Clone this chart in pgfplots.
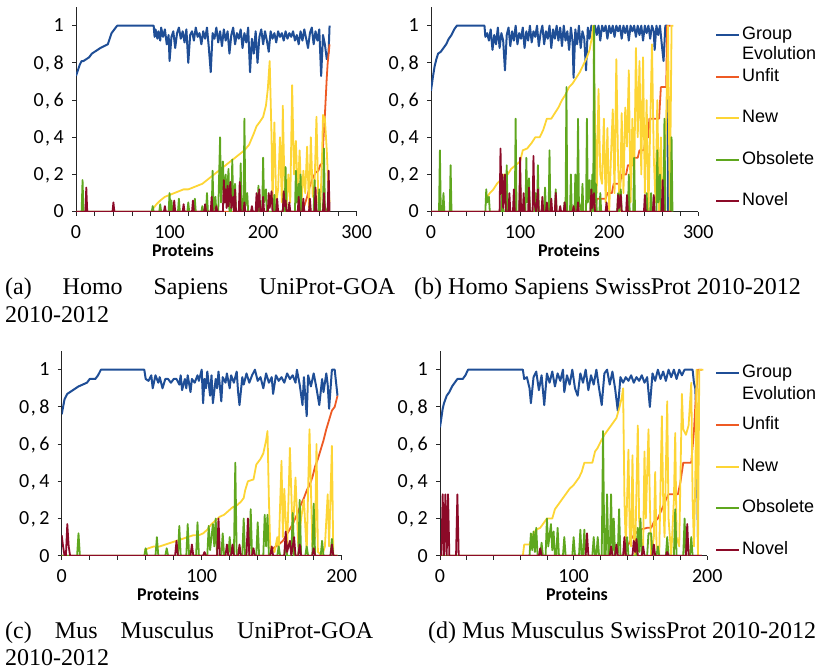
\documentclass[border=0pt]{standalone}
\usepackage{pgfplots}
\pgfplotsset{compat=1.18}
\usepackage{fontspec}
\setmainfont{Liberation Serif}
\newfontfamily\carlito{Carlito}
\newfontfamily\arialf{Liberation Sans}
\newfontfamily\capfont{Liberation Serif}
\definecolor{cBlue}{HTML}{1F4E96}
\definecolor{cRed}{HTML}{EE5A24}
\definecolor{cYellow}{HTML}{FDD535}
\definecolor{cGreen}{HTML}{5FA71E}
\definecolor{cNovel}{HTML}{8C0A28}
\newcommand{\tkcomma}{\kern1.5pt,\kern3.5pt}
\pgfplotsset{
  panel/.style={
    scale only axis, height=204.6pt, ymin=0, ymax=1.1, xmin=0,
    axis x line*=bottom, axis y line*=left,
    axis line style={black!85, line width=0.8pt},
    tick align=outside, major tick length=4pt,
    tick style={black!85, line width=0.8pt},
    /pgf/number format/assume math mode=true,
    ytick={0,0.2,0.4,0.6,0.8,1},
    yticklabels={0,0\tkcomma2,0\tkcomma4,0\tkcomma6,0\tkcomma8,1},
    ticklabel style={font=\carlito\fontsize{20}{24}\selectfont, inner sep=0pt},
    yticklabel style={anchor=base east, yshift=-6.3pt},
    xticklabel style={anchor=north},
    xticklabel shift=10pt, yticklabel shift=8pt,
    xlabel={Proteins},
    xlabel style={font=\carlito\bfseries\fontsize{18}{20}\selectfont, inner sep=0pt},
    every axis plot/.append style={line width=1.8pt, line join=round},
    legend cell align=left,
    legend image code/.code={\draw[##1,line width=1.8pt] (0pt,0pt) -- (23pt,0pt);},
    legend style={draw=none, fill=none, anchor=north west, inner sep=0pt,
      font=\arialf\fontsize{18}{20}\selectfont, row sep=24.5pt, column sep=2pt,
      nodes={inner sep=0pt, text height=13pt, text depth=4pt}},
  },
  big/.style={xmax=300, xtick={0,20,...,300},
    xticklabels={0,{},{},{},{},100,{},{},{},{},200,{},{},{},{},300}},
  small/.style={xmax=200, xtick={0,20,...,200},
    xticklabels={0,{},{},{},{},100,{},{},{},{},200}},
  raisedimg/.style={legend image code/.code={\draw[##1,line width=1.8pt] (0pt,11pt) -- (23pt,11pt);}},
}
\begin{document}
\begin{tikzpicture}[x=1pt,y=1pt]
\path[use as bounding box] (0pt,0pt) rectangle (830pt,670pt);

% ---------------- (a)
\begin{axis}[panel, big, width=280.7pt, at={(76pt,458.3pt)}, anchor=south west,
  xlabel style={at={(axis description cs:0.381,0)}, anchor=base, yshift=-45pt}]
\addplot[cBlue, line width=2pt] coordinates {(0,0.73)(2,0.76)(4,0.79)(6,0.81)(8,0.81)(11,0.82)(14,0.83)(17,0.85)(20,0.86)(23,0.87)(26,0.88)(30,0.89)(34,0.90)(36,0.93)(38,0.96)(41,0.98)(44,1.0)(83,1.0)
(84,0.94)(85,0.98)(87,0.93)(88,0.97)(90,0.92)(91,0.99)(93,0.94)(95,0.98)(97,0.90)(99,0.95)(100,0.81)(102,0.94)(104,0.97)(106,0.88)(108,0.96)(110,0.99)(112,0.93)(114,0.97)(116,0.91)(118,0.98)(120,0.80)(122,0.95)(124,0.97)(126,0.92)(128,0.99)(130,0.94)(132,0.96)(134,0.90)(136,0.97)(138,0.93)(140,0.99)(142,0.88)(144,0.75)(146,0.96)(148,0.93)(150,0.99)(152,0.91)(154,0.97)(156,0.89)(158,0.98)(160,0.92)(162,0.97)(164,0.85)(166,0.95)(168,0.99)(170,0.90)(172,0.96)(174,0.93)(176,0.98)(178,0.88)(180,0.96)(182,0.91)(184,0.99)(186,0.75)(188,0.93)(190,0.85)(192,0.97)(194,0.80)(196,0.94)(198,0.98)(200,0.90)(202,0.97)(204,0.92)(206,0.86)(208,0.97)(210,0.93)(212,0.96)(214,0.91)(216,0.97)(218,0.94)(220,0.96)(222,0.92)(224,0.97)(226,0.93)(228,0.96)(230,0.94)(232,0.97)(234,0.92)(236,0.95)(238,0.90)(240,0.97)(242,0.92)(244,0.98)(246,0.93)(248,0.88)(250,0.96)(252,0.99)(254,0.90)(256,0.97)(258,0.92)(260,0.98)(262,0.73)(264,0.95)(266,0.90)(268,0.82)(270,0.86)(271,1.0)};
\addplot[cRed] coordinates {(0,0)(240,0)(244,0.03)(247,0.08)(250,0.14)(253,0.18)(256,0.21)(259,0.22)(261,0.25)(263,0.26)(264,0.35)(266,0.52)(267,0.62)(268,0.72)(269,0.80)(271,0.90)};
\addplot[cYellow] coordinates {(83,0.02)(86,0.04)(90,0.06)(95,0.08)(100,0.09)(105,0.10)(110,0.11)(115,0.12)(120,0.12)(125,0.13)(130,0.14)(135,0.15)(140,0.17)(145,0.19)(150,0.21)(155,0.23)(160,0.25)(165,0.27)(170,0.29)(175,0.31)(180,0.33)(185,0.36)(190,0.42)(193,0.46)(196,0.48)(200,0.51)(203,0.57)(205,0.66)(207,0.81)(209,0.40)(210,0.03)(212,0.48)(214,0.05)(216,0.12)(218,0.40)(220,0.05)(221,0.57)(223,0.10)(225,0.03)(227,0.20)(229,0.05)(231,0.68)(233,0.20)(235,0.38)(237,0.08)(239,0.33)(241,0.05)(243,0.22)(245,0.10)(247,0.35)(249,0.02)(251,0.40)(253,0.08)(255,0.15)(257,0.51)(259,0.05)(261,0.0)(263,0.30)(264,0.52)(266,0.5)(268,0.33)(270,0.10)(271,0.05)};
\addplot[cGreen] coordinates {(0,0)(6,0)(7,0.17)(8,0)(81,0)(82,0.03)(83,0)(89,0)(90,0.04)(91,0)(99,0)(100,0.10)(101,0)(102,0.06)(103,0)(109,0)(110,0.07)(111,0)(119,0)(120,0.05)(121,0)(126,0)(127,0.07)(128,0)(134,0)(135,0.03)(136,0)(139,0)(140,0.10)(141,0)(145,0)(146,0.22)(147,0)(149,0.08)(150,0)(152,0)(154,0.40)(155,0.05)(157,0.27)(158,0.10)(160,0.20)(161,0.05)(163,0.23)(164,0)(166,0)(167,0.28)(168,0.05)(170,0.15)(171,0)(175,0)(176,0.26)(177,0)(179,0)(180,0.50)(181,0.03)(183,0.10)(184,0)(194,0)(195,0.14)(196,0)(199,0)(200,0.29)(201,0.05)(203,0.12)(204,0)(211,0)(212,0.09)(213,0)(221,0)(222,0.10)(223,0)(224,0.24)(225,0)(234,0)(235,0.22)(236,0.05)(238,0.15)(239,0)(240,0.20)(241,0)(254,0)(255,0.17)(256,0)(259,0)(260,0.12)(261,0)(264,0)(265,0.34)(266,0.03)(268,0)(271,0)};
\addplot[cNovel] coordinates {(0,0)(10,0)(11,0.13)(12,0)(39,0)(40,0.05)(41,0)(94,0)(95,0.03)(96,0)(104,0)(105,0.06)(106,0)(114,0)(115,0.04)(116,0)(124,0)(125,0.06)(126,0)(137,0)(138,0.04)(139,0)(144,0)(145,0.08)(146,0)(149,0)(150,0.03)(151,0)(157,0)(158,0.17)(159,0.05)(160,0.12)(161,0.02)(162,0.14)(163,0.03)(165,0.16)(166,0.02)(168,0.08)(169,0)(170,0.12)(171,0)(174,0)(175,0.16)(176,0)(179,0)(180,0.05)(181,0)(187,0)(188,0.03)(189,0)(192,0)(193,0.10)(194,0)(196,0.12)(197,0)(199,0)(200,0.08)(201,0)(205,0)(206,0.10)(207,0.02)(209,0.11)(210,0)(214,0)(215,0.07)(216,0)(221,0)(222,0.11)(223,0.03)(224,0.06)(225,0)(227,0)(228,0.05)(229,0)(237,0)(238,0.08)(239,0)(242,0)(243,0.07)(244,0)(249,0)(250,0.07)(251,0)(255,0)(256,0.13)(257,0)(264,0)(265,0.10)(266,0)(269,0)(270,0.22)(271,0)};
\end{axis}

% ---------------- (b)
\begin{axis}[panel, big, width=267.3pt, at={(431pt,458.3pt)}, anchor=south west,
  xlabel style={at={(axis description cs:0.516,0)}, anchor=base, yshift=-45pt},
  legend style={at={(axis description cs:1.0625,0.905)}}]
\addplot[cBlue, line width=2pt] coordinates {(0,0.65)(2,0.72)(4,0.78)(6,0.82)(8,0.85)(11,0.86)(14,0.88)(17,0.90)(20,0.93)(23,0.95)(26,0.98)(29,1.0)(60,1.0)(61,0.94)(63,0.96)(65,0.92)(67,0.98)(69,0.87)(71,0.95)(73,0.90)(75,0.99)(77,0.88)(79,0.96)(81,0.92)(83,0.76)(85,0.95)(87,0.99)(89,0.89)(91,0.97)(93,0.92)(95,1.0)(97,0.90)(99,0.96)(101,0.93)(103,0.99)(105,0.88)(107,0.97)(109,0.92)(111,1.0)(113,0.91)(115,0.97)(117,0.94)(119,1.0)(121,0.89)(123,0.96)(125,1.0)(127,0.90)(129,0.97)(131,0.93)(133,1.0)(135,0.88)(137,0.98)(139,0.93)(141,1.0)(143,0.92)(145,0.99)(147,0.89)(149,1.0)(151,0.92)(153,0.97)(155,0.87)(157,0.99)(159,0.91)(160,0.72)(162,0.98)(164,0.90)(166,1.0)(168,0.88)(170,0.97)(172,0.93)(174,0.76)(176,0.99)(178,0.93)(180,1.0)(182,0.97)(184,1.0)(186,0.95)(188,1.0)(190,0.92)(192,1.0)(194,0.97)(196,1.0)(198,0.93)(200,1.0)(202,0.96)(204,1.0)(206,0.94)(208,1.0)(210,0.97)(212,1.0)(214,0.93)(216,1.0)(218,0.96)(220,1.0)(222,0.92)(224,1.0)(226,0.97)(228,1.0)(230,0.94)(232,1.0)(234,0.95)(236,1.0)(238,0.92)(240,1.0)(242,0.96)(244,1.0)(246,0.93)(248,1.0)(250,0.97)(251,0.87)(253,1.0)(255,0.95)(257,1.0)(259,0.90)(261,0.81)(263,1.0)(265,1.0)(266,0.0)};
\addlegendentry{\smash{\begin{tabular}[t]{@{}l@{}}Group\\Evolution\end{tabular}}}
\addplot[cRed] coordinates {(0,0)(185,0)(186,0.07)(196,0.07)(198,0.1)(203,0.1)(205,0.15)(212,0.15)(214,0.2)(219,0.2)(221,0.25)(226,0.25)(228,0.29)(232,0.29)(234,0.33)(239,0.33)(241,0.4)(244,0.4)(245,0.5)(256,0.5)(258,0.67)(264,0.67)(265,1.0)(269,1.0)};
\addlegendentry{Unfit}
\addplot[cYellow] coordinates {(63,0.08)(66,0.10)(70,0.12)(74,0.15)(78,0.17)(82,0.2)(86,0.2)(90,0.23)(95,0.25)(100,0.27)(103,0.33)(108,0.34)(113,0.37)(117,0.40)(122,0.40)(126,0.44)(130,0.50)(135,0.50)(139,0.53)(143,0.56)(147,0.60)(151,0.63)(155,0.67)(159,0.69)(163,0.72)(167,0.75)(171,0.79)(175,0.83)(178,0.87)(181,0.95)(182,1.0)(184,0.5)(186,0.10)(188,0.66)(190,0.20)(192,0.15)(194,0.50)(196,0.05)(198,0.45)(200,0.0)(202,0.30)(204,0.55)(206,0.10)(208,0.82)(210,0.25)(212,0.0)(214,0.53)(216,0.10)(218,0.56)(220,0.35)(222,0.76)(224,0.05)(226,0.50)(228,0.15)(230,0.88)(232,0.40)(234,0.81)(236,0.20)(238,0.83)(240,0.10)(242,0.60)(244,0.0)(246,0.45)(248,0.90)(250,0.30)(252,0.05)(254,0.60)(256,0.0)(258,0.40)(260,0.0)(262,0.20)(264,0.50)(266,1.0)(268,0.0)(270,1.0)(272,1.0)};
\addlegendentry{New}
\addplot[cGreen] coordinates {(0,0)(9,0)(10,0.33)(11,0)(13,0)(14,0.10)(15,0)(21,0)(22,0.25)(23,0)(61,0)(62,0.12)(63,0.05)(65,0.08)(66,0)(79,0)(80,0.20)(81,0)(84,0)(85,0.25)(86,0)(94,0)(95,0.50)(96,0)(99,0)(100,0.20)(101,0)(106,0)(107,0.29)(108,0.05)(110,0.18)(111,0)(116,0)(117,0.10)(118,0)(119,0)(120,0.25)(121,0)(127,0)(128,0.13)(129,0)(132,0)(133,0.33)(134,0)(139,0)(140,0.12)(141,0)(149,0)(150,0.05)(151,0)(152,0.67)(153,0)(156,0)(157,0.20)(158,0)(161,0)(162,0.20)(163,0)(164,0)(165,0.50)(166,0.05)(169,0)(170,0.15)(171,0)(174,0)(175,0.50)(176,0.05)(178,0.17)(179,0)(180,0)(181,0.20)(182,0)(183,1.0)(184,0.05)(185,0.15)(186,0)(189,0)(190,0.10)(191,0)(209,0)(210,0.10)(211,0)(213,0.12)(214,0)(221,0)(222,0.20)(223,0)(227,0)(228,0.29)(229,0)(241,0)(242,0.10)(243,0)(246,0)(247,0.10)(248,0)(253,0)(254,0.33)(255,0.05)(257,0.20)(258,0)(261,0)(262,0.50)(263,0)(269,0)(270,0.40)(271,0)};
\addlegendentry{Obsolete}
\addplot[cNovel] coordinates {(0,0)(77,0)(78,0.34)(79,0.1)(80,0.2)(81,0.02)(83,0.2)(84,0)(87,0)(88,0.10)(89,0)(92,0)(93,0.12)(94,0)(99,0)(100,0.29)(101,0)(103,0)(104,0.10)(105,0)(109,0)(110,0.13)(111,0)(114,0)(115,0.30)(116,0.05)(118,0)(120,0.12)(121,0)(124,0)(125,0.08)(126,0)(129,0)(130,0.05)(131,0)(134,0)(135,0.07)(136,0)(139,0)(140,0.10)(141,0)(144,0)(145,0.03)(146,0)(149,0)(150,0.05)(151,0)(159,0)(160,0.03)(161,0)(164,0)(165,0.05)(166,0)(179,0)(180,0.12)(181,0.02)(183,0.10)(184,0)(196,0)(197,0.05)(198,0)(209,0)(210,0.09)(211,0.02)(213,0.09)(214,0)(219,0)(220,0.09)(221,0)(239,0)(240,0.09)(241,0)(249,0)(250,0.09)(251,0)(259,0)(260,0.17)(261,0)(270,0)};
\addlegendentry{Novel}
\end{axis}

% ---------------- (c)
\begin{axis}[panel, small, width=280pt, at={(61.7pt,114.3pt)}, anchor=south west,
  xlabel style={at={(axis description cs:0.38,0)}, anchor=base, yshift=-45pt}]
\addplot[cBlue, line width=2pt] coordinates {(0,0.76)(1,0.80)(2,0.84)(4,0.87)(6,0.88)(8,0.89)(10,0.90)(12,0.91)(15,0.92)(18,0.93)(20,0.95)(24,0.95)(26,0.97)(28,1.0)(59,1.0)(60,0.95)(62,0.94)(64,0.97)(65,0.90)(67,0.97)(69,0.93)(70,0.96)(72,0.90)(74,0.95)(76,0.95)(78,0.93)(80,0.95)(82,0.95)(84,0.92)(85,0.97)(86,0.89)(88,0.95)(89,0.90)(90,0.97)(92,0.88)(93,0.95)(95,0.93)(97,0.97)(98,0.94)(100,1.0)(101,0.82)(102,0.95)(103,0.90)(104,0.99)(106,0.86)(107,0.97)(108,0.82)(110,0.95)(111,0.90)(112,0.99)(114,0.83)(115,0.96)(117,0.93)(118,0.98)(120,0.90)(121,0.97)(123,0.93)(125,0.99)(126,0.88)(127,0.81)(129,0.96)(130,0.92)(132,0.98)(134,0.93)(136,0.97)(138,1.0)(140,0.94)(142,0.96)(144,0.90)(146,0.98)(148,0.93)(150,0.96)(151,0.87)(153,0.97)(155,0.94)(157,0.96)(159,0.93)(161,0.98)(163,0.95)(165,0.97)(167,0.93)(168,1.0)(170,0.92)(172,0.81)(173,0.96)(175,0.75)(176,0.97)(178,0.91)(180,0.98)(182,0.90)(184,0.81)(186,0.95)(187,0.88)(189,0.98)(190,0.92)(191,0.79)(193,1.0)(195,1.0)(197,0.86)};
\addplot[cRed] coordinates {(0,0)(148,0)(151,0.04)(155,0.06)(158,0.08)(162,0.13)(165,0.17)(168,0.22)(170,0.26)(173,0.31)(175,0.35)(177,0.38)(179,0.42)(181,0.48)(183,0.52)(185,0.57)(187,0.62)(189,0.68)(191,0.73)(193,0.78)(195,0.80)(197,0.86)};
\addplot[cYellow] coordinates {(59,0.03)(62,0.04)(66,0.05)(70,0.05)(74,0.06)(78,0.07)(82,0.08)(86,0.09)(90,0.10)(94,0.11)(98,0.11)(101,0.12)(104,0.14)(107,0.17)(110,0.19)(113,0.21)(116,0.22)(119,0.24)(122,0.26)(125,0.27)(128,0.29)(130,0.31)(131,0.35)(133,0.40)(137,0.41)(139,0.49)(142,0.52)(144,0.55)(146,0.62)(147,0.67)(148,0.30)(149,0.04)(152,0.02)(154,0.10)(155,0.03)(157,0.51)(158,0.10)(159,0.36)(161,0.03)(163,0.58)(165,0.10)(167,0.42)(169,0.05)(171,0.20)(173,0.30)(175,0.02)(177,0.68)(179,0.05)(181,0.10)(182,0.60)(183,0.02)(186,0.0)(188,0.05)(190,0.33)(191,0.05)(193,0.59)(194,0.0)(197,0.0)};
\addplot[cGreen] coordinates {(0,0)(11,0)(12,0.12)(13,0)(59,0)(60,0.04)(61,0)(67,0)(68,0.10)(69,0)(74,0)(75,0.04)(76,0)(83,0)(84,0.16)(85,0)(89,0)(90,0.17)(91,0)(96,0)(97,0.18)(98,0)(104,0)(105,0.16)(106,0.03)(108,0.17)(109,0.05)(110,0.20)(111,0)(114,0)(115,0.12)(116,0)(119,0)(120,0.10)(121,0)(123,0)(124,0.50)(125,0)(129,0)(130,0.20)(131,0)(134,0)(135,0.25)(136,0)(139,0)(140,0.18)(141,0)(144,0)(145,0.22)(146,0.05)(147,0.22)(148,0)(154,0)(155,0.05)(156,0)(159,0)(160,0.08)(161,0)(164,0)(165,0.23)(166,0)(169,0)(170,0.30)(171,0)(174,0)(175,0.05)(176,0)(179,0)(180,0.28)(181,0)(185,0)(186,0.08)(187,0)(192,0)(193,0.09)(194,0)(197,0)};
\addplot[cNovel] coordinates {(0,0.11)(1,0.05)(2,0)(3,0)(4,0.17)(5,0.05)(6,0)(81,0)(82,0.08)(83,0)(92,0)(93,0.06)(94,0)(101,0)(102,0.02)(103,0)(111,0)(112,0.20)(113,0)(117,0)(118,0.06)(119,0)(121,0)(122,0.06)(123,0)(126,0)(127,0.06)(128,0)(132,0)(133,0.20)(134,0)(136,0)(137,0.04)(138,0)(149,0)(150,0.05)(151,0)(159,0)(160,0.13)(161,0.02)(163,0.08)(164,0)(166,0.10)(167,0)(169,0)(170,0.06)(171,0)(179,0)(180,0.04)(181,0)(192,0)(193,0.06)(194,0)(197,0)};
\end{axis}

% ---------------- (d)
\begin{axis}[panel, small, width=267.3pt, at={(440pt,114.3pt)}, anchor=south west,
  xlabel style={at={(axis description cs:0.5125,0)}, anchor=base, yshift=-45pt},
  legend style={at={(axis description cs:1.029,0.900)}}]
\addplot[cBlue, line width=2pt, raisedimg] coordinates {(0,0.69)(1,0.74)(2,0.79)(3,0.82)(5,0.86)(7,0.88)(9,0.91)(11,0.93)(13,0.95)(17,0.95)(19,0.97)(21,1.0)(62,1.0)(63,0.95)(65,0.96)(67,0.90)(68,0.82)(70,0.96)(72,0.99)(74,0.89)(76,0.97)(78,0.81)(80,0.98)(82,0.93)(84,0.99)(86,0.91)(88,0.98)(90,0.94)(92,1.0)(93,0.88)(95,0.97)(97,0.92)(99,1.0)(101,0.90)(103,0.86)(105,0.98)(107,0.93)(109,1.0)(111,0.89)(113,0.97)(115,0.92)(117,1.0)(119,0.90)(121,0.81)(123,0.98)(125,1.0)(127,0.92)(129,0.99)(131,0.90)(133,0.78)(135,0.96)(137,0.93)(139,0.96)(141,0.94)(143,0.97)(145,0.93)(147,0.96)(149,0.94)(151,0.97)(153,0.93)(155,0.96)(157,0.80)(159,0.98)(161,0.94)(163,1.0)(165,0.95)(167,0.99)(169,0.94)(171,1.0)(173,0.96)(175,1.0)(177,0.95)(179,1.0)(181,0.97)(183,1.0)(189,1.0)(190,0.93)(191,0.90)(192,0.72)(193,0.10)};
\addlegendentry{\smash{\raisebox{11pt}{\begin{tabular}[t]{@{}l@{}}Group\\[2pt]Evolution\end{tabular}}}}
\addplot[cRed] coordinates {(0,0)(137,0)(139,0.03)(141,0.06)(143,0.09)(146,0.12)(150,0.14)(155,0.15)(158,0.15)(160,0.18)(163,0.20)(166,0.25)(169,0.30)(171,0.33)(178,0.33)(180,0.40)(182,0.50)(188,0.50)(190,0.67)(191,0.80)(193,1.0)(196,1.0)};
\addlegendentry{Unfit}
\addplot[cYellow] coordinates {(62,0.0)(63,0.06)(67,0.06)(70,0.12)(72,0.14)(75,0.15)(78,0.18)(80,0.20)(84,0.20)(86,0.25)(89,0.28)(92,0.31)(95,0.34)(97,0.36)(100,0.38)(102,0.40)(104,0.42)(106,0.45)(108,0.50)(114,0.50)(116,0.56)(118,0.58)(120,0.61)(123,0.65)(126,0.68)(128,0.70)(130,0.72)(132,0.74)(134,0.79)(136,0.85)(137,0.90)(138,0.30)(139,0.05)(141,0.57)(142,0.10)(143,0.05)(144,0.54)(145,0.10)(146,0.0)(148,0.70)(149,0.20)(150,0.10)(152,0.05)(153,0.56)(154,0.20)(156,0.68)(157,0.30)(158,0.0)(160,0.10)(161,0.45)(162,0.05)(164,0.0)(166,0.75)(167,0.30)(168,0.10)(170,0.83)(171,0.20)(173,0.0)(175,0.30)(176,0.66)(177,0.10)(179,0.05)(181,0.87)(182,0.68)(184,0.65)(186,0.70)(188,0.93)(189,0.30)(190,0.05)(191,0.40)(192,1.0)(193,0.0)(194,1.0)(197,1.0)};
\addlegendentry{New}
\addplot[cGreen] coordinates {(0,0)(67,0)(68,0.12)(69,0.03)(70,0.13)(71,0.02)(72,0.15)(73,0)(75,0)(76,0.07)(77,0)(79,0)(80,0.20)(81,0.05)(83,0.17)(84,0.03)(85,0.13)(86,0)(87,0)(88,0.15)(89,0)(92,0)(93,0.10)(94,0)(99,0)(100,0.10)(101,0)(104,0)(105,0.14)(106,0)(107,0)(108,0.14)(109,0)(114,0)(115,0.10)(116,0)(117,0)(118,0.10)(119,0)(121,0)(122,0.67)(123,0)(124,0)(125,0.33)(126,0)(127,0)(128,0.33)(129,0)(130,0.20)(131,0)(133,0)(134,0.25)(135,0)(139,0)(140,0.10)(141,0)(147,0)(148,0.15)(149,0.02)(150,0.20)(151,0)(155,0)(156,0.12)(157,0.12)(158,0.12)(159,0)(162,0)(163,0.05)(164,0)(169,0)(170,0.10)(171,0)(175,0)(176,0.25)(177,0)(182,0)(183,0.20)(184,0)(187,0)(188,0.10)(189,0)(196,0)};
\addlegendentry{Obsolete}
\addplot[cNovel] coordinates {(0,0)(1,0)(2,0.33)(3,0)(4,0.33)(5,0)(6,0.33)(7,0)(12,0)(13,0.33)(14,0)(74,0)(75,0.04)(76,0)(109,0)(110,0.12)(111,0)(127,0)(128,0.05)(129,0)(131,0)(132,0.06)(133,0)(137,0)(138,0.10)(139,0)(144,0)(145,0.08)(146,0.02)(147,0.09)(148,0)(151,0)(152,0.05)(153,0)(159,0)(160,0.06)(161,0)(169,0)(170,0.02)(171,0)(184,0)(185,0.17)(186,0)(196,0)};
\addlegendentry{Novel}
\end{axis}

% ---------------- captions
\begin{scope}[every node/.style={anchor=base west, inner sep=0pt, font=\capfont\fontsize{24}{28}\selectfont}]
\node at (5pt,375pt) {\makebox[390pt][s]{(a) Homo Sapiens UniProt-GOA}};
\node at (5pt,347pt) {2010-2012};
\node at (414pt,375pt) {(b) Homo Sapiens SwissProt 2010-2012};
\node at (5pt,32pt) {\makebox[368pt][s]{(c) Mus Musculus UniProt-GOA}};
\node at (5pt,5pt) {2010-2012};
\node at (428pt,32pt) {(d) Mus Musculus SwissProt 2010-2012};
\end{scope}
\end{tikzpicture}
\end{document}
